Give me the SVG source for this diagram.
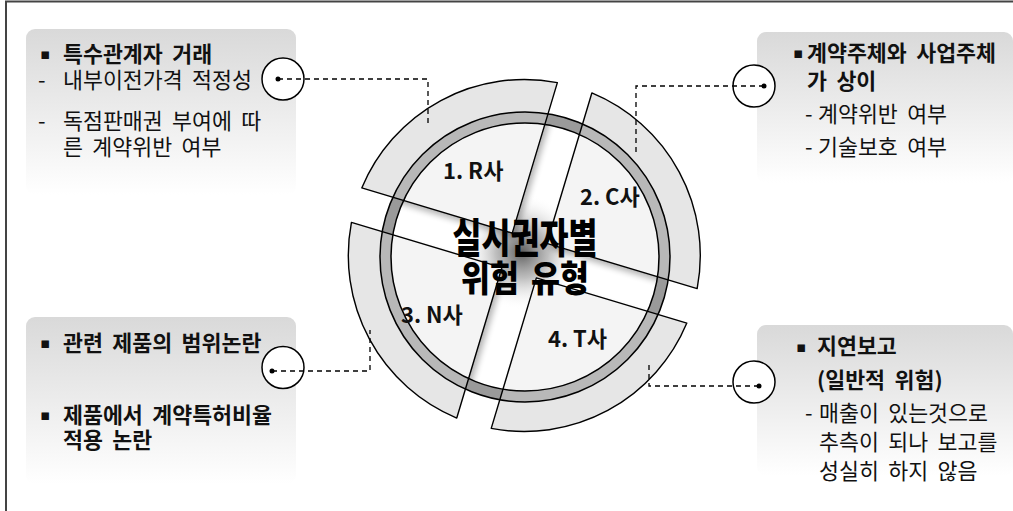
<svg xmlns="http://www.w3.org/2000/svg" width="1013" height="511" viewBox="0 0 1013 511">
<defs>
<style>
.box{fill:url(#boxg)}
.t{font-family:"Noto Sans CJK KR","Noto Sans",sans-serif;font-size:21.7px;fill:#111;word-spacing:4.5px}
.b{font-weight:bold}
.bul{font-family:"DejaVu Sans",sans-serif;font-size:15px;fill:#111}
.lbl{font-family:"Noto Sans CJK KR","Noto Sans",sans-serif;font-size:22px;font-weight:bold;fill:#111}
.ctr{font-family:"Noto Sans CJK KR","Noto Sans",sans-serif;font-size:31.5px;font-weight:900;fill:#000;text-anchor:middle;word-spacing:5px}
.mk{fill:#fff;stroke:#000;stroke-width:1.5}
.dot{fill:#000}
.cn{fill:none;stroke:#000;stroke-width:1.3;stroke-dasharray:5 4}
.outer{fill:#e6e6e6}
.inner{fill:#f4f4f4}
.edge{fill:none;stroke:#000;stroke-width:1.4;stroke-linejoin:round}
</style>
<linearGradient id="boxg" x1="0" y1="0" x2="0" y2="1">
<stop offset="0" stop-color="#d9d9d9"/>
<stop offset="1" stop-color="#ffffff"/>
</linearGradient>
<radialGradient id="glow" cx="522" cy="252" r="58" gradientUnits="userSpaceOnUse">
<stop offset="0" stop-color="#555" stop-opacity="0.95"/>
<stop offset="0.45" stop-color="#888" stop-opacity="0.55"/>
<stop offset="1" stop-color="#fff" stop-opacity="0"/>
</radialGradient>
<filter id="sh" x="-20%" y="-20%" width="140%" height="140%">
<feGaussianBlur in="SourceAlpha" stdDeviation="3"/>
<feOffset dx="3" dy="5"/>
<feComponentTransfer><feFuncA type="linear" slope="0.3"/></feComponentTransfer>
<feMerge><feMergeNode/><feMergeNode in="SourceGraphic"/></feMerge>
</filter>
<path id="pR" d="M-18 -18 L-18 -175.08 A176 176 0 0 0 -175.08 -18 Z"/>
<path id="pC" d="M18 -18 L175.08 -18 A176 176 0 0 0 18 -175.08 Z"/>
<path id="pT" d="M18 18 L18 175.08 A176 176 0 0 0 175.08 18 Z"/>
<path id="pN" d="M-18 18 L-175.08 18 A176 176 0 0 0 -18 175.08 Z"/>
<clipPath id="pieces">
<use href="#pR" transform="translate(524.3 255.5) rotate(16.7)"/>
<use href="#pC" transform="translate(524.3 255.5) rotate(16.7)"/>
<use href="#pT" transform="translate(524.3 255.5) rotate(16.7)"/>
<use href="#pN" transform="translate(524.3 255.5) rotate(16.7)"/>
</clipPath>
<clipPath id="disc"><circle cx="525" cy="257" r="136"/></clipPath>
</defs>
<rect width="1013" height="511" fill="#fff"/>
<path d="M6 511 V1.5 H1013" fill="none" stroke="#444" stroke-width="2"/>

<g id="box1">
<rect class="box" x="26" y="29" width="270" height="166" rx="9"/>
<text class="t b"><tspan class="bul" x="40" y="59">▪</tspan><tspan x="63" y="62">특수관계자 거래</tspan></text>
<text class="t"><tspan x="38" y="88">-</tspan><tspan x="63" y="88">내부이전가격 적정성</tspan></text>
<text class="t"><tspan x="38" y="129">-</tspan><tspan x="63" y="129">독점판매권 부여에 따</tspan></text>
<text class="t" x="63" y="155">른 계약위반 여부</text>
</g>

<g id="box2">
<rect class="box" x="757" y="32" width="256" height="151" rx="9"/>
<text class="t b"><tspan class="bul" x="793" y="58">▪</tspan><tspan x="807" y="61">계약주체와 사업주체</tspan></text>
<text class="t b" x="807" y="89">가 상이</text>
<text class="t"><tspan x="805" y="122">-</tspan><tspan x="818" y="122">계약위반 여부</tspan></text>
<text class="t"><tspan x="805" y="155">-</tspan><tspan x="818" y="155">기술보호 여부</tspan></text>
</g>

<g id="box3">
<rect class="box" x="26" y="317" width="270" height="167" rx="9"/>
<text class="t b"><tspan class="bul" x="40" y="348">▪</tspan><tspan x="63" y="351">관련 제품의 범위논란</tspan></text>
<text class="t b"><tspan class="bul" x="40" y="420">▪</tspan><tspan x="63" y="423">제품에서 계약특허비율</tspan></text>
<text class="t b" x="63" y="448">적용 논란</text>
</g>

<g id="box4">
<rect class="box" x="757" y="325" width="256" height="151" rx="9"/>
<text class="t b"><tspan class="bul" x="796" y="352">▪</tspan><tspan x="817" y="354">지연보고</tspan></text>
<text class="t b" x="817" y="388">(일반적 위험)</text>
<text class="t"><tspan x="805" y="421">-</tspan><tspan x="819" y="421">매출이 있는것으로</tspan></text>
<text class="t" x="819" y="450">추측이 되나 보고를</text>
<text class="t" x="819" y="479">성실히 하지 않음</text>
</g>

<g id="wheel">
<circle cx="522" cy="252" r="58" fill="url(#glow)" clip-path="url(#disc)"/>
<g transform="translate(524.3 255.5) rotate(16.7)">
<use href="#pR" class="outer"/>
<use href="#pC" class="outer"/>
<use href="#pT" class="outer"/>
<use href="#pN" class="outer"/>
</g>
<g filter="url(#sh)" clip-path="url(#disc)">
<g transform="translate(524.3 255.5) rotate(16.7)">
<use href="#pR" class="inner"/>
<use href="#pC" class="inner"/>
<use href="#pT" class="inner"/>
<use href="#pN" class="inner"/>
</g>
</g>
<circle cx="525" cy="257" r="139.5" fill="none" stroke="#9a9a9a" stroke-width="11"/>
<circle cx="525" cy="257" r="139.5" fill="none" stroke="#b8b8b8" stroke-width="11" clip-path="url(#pieces)"/>
<g transform="translate(524.3 255.5) rotate(16.7)">
<use href="#pR" class="edge"/>
<use href="#pC" class="edge"/>
<use href="#pT" class="edge"/>
<use href="#pN" class="edge"/>
</g>
<circle cx="525" cy="257" r="145" fill="none" stroke="#000" stroke-width="1.5"/>
<circle cx="525" cy="257" r="134" fill="none" stroke="#000" stroke-width="1.5"/>
</g>

<g id="nodeR"><text class="lbl" x="443" y="179">1. R사</text></g>
<g id="nodeC"><text class="lbl" x="580" y="204.5">2. C사</text></g>
<g id="nodeN"><text class="lbl" x="401" y="322.5">3. N사</text></g>
<g id="nodeT"><text class="lbl" x="548" y="346.5">4. T사</text></g>
<g id="center">
<text class="ctr" transform="translate(525 253) scale(1 1.3)">실시권자별</text>
<text class="ctr" transform="translate(525 292) scale(1 1.15)">위험 유형</text>
</g>

<g id="markers">
<circle class="mk" cx="283" cy="79" r="21"/>
<circle class="mk" cx="754" cy="86" r="21"/>
<circle class="mk" cx="283" cy="367.5" r="21"/>
<circle class="mk" cx="754" cy="382" r="21"/>
</g>
<g id="connectors">
<polyline class="cn" points="278,79 428,79 428,126"/>
<polyline class="cn" points="764,86 636,86 636,155"/>
<polyline class="cn" points="272,371 370,371 370,330"/>
<polyline class="cn" points="759,386 649,386 649,363"/>
<circle class="dot" cx="278" cy="79" r="2.5"/>
<circle class="dot" cx="764" cy="86" r="2.5"/>
<circle class="dot" cx="272" cy="371" r="2.5"/>
<circle class="dot" cx="759" cy="386" r="2.5"/>
</g>
</svg>
